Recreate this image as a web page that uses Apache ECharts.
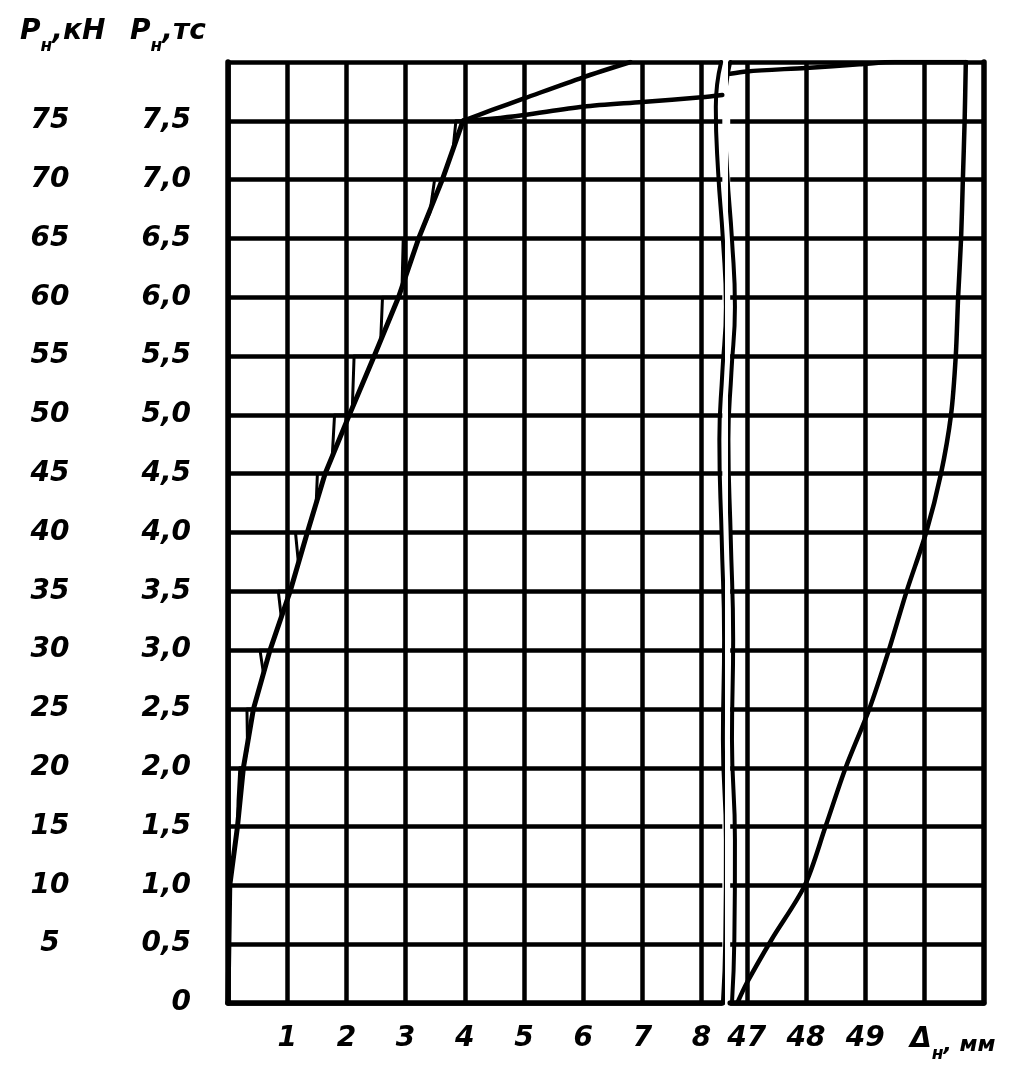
<!DOCTYPE html>
<html><head><meta charset="utf-8">
<script src="https://cdn.jsdelivr.net/npm/echarts@6/dist/echarts.min.js"></script>
<style>html,body{margin:0;background:#fff}#c{width:1030px;height:1072px}</style>
</head><body><div id="c"></div>
<script>
// Tick labels
const tcLabels = ['0','0,5','1,0','1,5','2,0','2,5','3,0','3,5','4,0','4,5','5,0','5,5','6,0','6,5','7,0','7,5',''];
const kNLabels = ['','5','10','15','20','25','30','35','40','45','50','55','60','65','70','75',''];
const leftXTicks = [0,1,2,3,4,5,6,7,8];
const leftXLabels = [1,2,3,4,5,6,7,8];
const rightXTicks = [47,48,49,50];
const rightXLabels = [47,48,49];

// Left panel: loading curve (thick) and reloading loops (thin)
const mainCurve = [[0,0],[0.03,1.0],[0.16,1.5],[0.26,2.0],[0.43,2.5],[0.71,3.0],[1.05,3.5],[1.34,4.0],[1.64,4.5],[2.05,5.0],[2.47,5.5],[2.88,6.0],[3.22,6.5],[3.62,7.0],[3.97,7.5]];
const thinCurve = [[0.03,1.05],[0.01,1.5],[0.16,1.5],
  [0.17,1.72],[0.2,2.0],[0.26,2.0],
  [0.33,2.17],[0.32,2.5],[0.43,2.5],
  [0.6,2.8],[0.54,3.0],[0.71,3.0],
  [0.9,3.28],[0.85,3.5],[1.05,3.5],
  [1.19,3.74],[1.14,4.0],[1.34,4.0],
  [1.49,4.25],[1.51,4.5],[1.64,4.5],
  [1.76,4.64],[1.8,5.0],[2.05,5.0],
  [2.1,5.06],[2.13,5.5],[2.47,5.5],
  [2.58,5.64],[2.61,6.0],[2.88,6.0],
  [2.94,6.09],[2.96,6.5],[3.22,6.5],
  [3.41,6.72],[3.49,7.0],[3.62,7.0],
  [3.8,7.25],[3.85,7.5],[3.97,7.5]];
const upperBranch = [[3.97,7.5],[4.45,7.59],[5.0,7.69],[6.0,7.87],[6.8,8.0]];
const lowerBranch = [[3.97,7.5],[4.5,7.52],[5.0,7.55],[6.0,7.62],[7.0,7.66],[8.0,7.7],[8.35,7.72]];

// Right panel
const rightCurve = [[46.84,0],[47.0,0.17],[47.42,0.54],[47.98,1.0],[48.33,1.5],[48.67,2.0],[49.07,2.5],[49.4,3.0],[49.7,3.5],[50.03,4.0],[50.28,4.5],[50.45,5.0],[50.53,5.5],[50.57,6.0],[50.62,6.5],[50.65,7.0],[50.68,7.5],[50.7,8.0]];
const rightTopLine = [[46.72,7.9],[47.0,7.92],[48.0,7.95],[48.9,7.98],[49.5,8.0],[50.7,8.0]];

// Axis break (wavy edges)
const leftBreak = [[8.33,8.0],[8.24,7.62],[8.28,7.06],[8.36,6.49],[8.41,5.92],[8.35,5.36],[8.30,4.79],[8.34,3.94],[8.38,3.09],[8.36,2.24],[8.41,1.39],[8.40,0.54],[8.36,0]];
const rightBreak = [[46.72,8.0],[46.63,7.62],[46.67,7.06],[46.75,6.49],[46.80,5.92],[46.74,5.36],[46.69,4.79],[46.73,3.94],[46.77,3.09],[46.75,2.24],[46.80,1.39],[46.79,0.54],[46.75,0]];

const FONT = {fontFamily:'DejaVu Sans', fontStyle:'italic', fontWeight:'bold', color:'#000'};
const GRID_W = 4.5, BORDER_W = 5.5;
const gridLine = {show:true, lineStyle:{color:'#000', width:GRID_W}};
const chart = echarts.init(document.getElementById('c'), null, {renderer:'canvas'});

function line(data, xi, w, smooth, extra) {
  return Object.assign({type:'line', xAxisIndex:xi, yAxisIndex:xi, data:data, symbol:'none',
    smooth:smooth||false, lineStyle:{color:'#000', width:w, cap:'round', join:'round'}, silent:true, animation:false}, extra||{});
}

chart.setOption({
  animation:false,
  backgroundColor:'#fff',
  grid:[
    {left:228, top:62, width:8.35*59.2, height:941},
    {left:730.2, top:62, width:(51-46.72)*59.2, height:941}
  ],
  xAxis:[
    {type:'value', gridIndex:0, min:0, max:8.35,
     axisLine:{show:true, lineStyle:{color:'#000', width:BORDER_W}},
     axisTick:{show:false, customValues:leftXTicks}, splitLine:gridLine,
     axisLabel:Object.assign({fontSize:28, margin:22, customValues:leftXLabels, formatter:v=>String(v)}, FONT)},
    {type:'value', gridIndex:1, min:46.72, max:51,
     axisLine:{show:true, lineStyle:{color:'#000', width:BORDER_W}},
     axisTick:{show:false, customValues:rightXTicks}, splitLine:gridLine,
     axisLabel:Object.assign({fontSize:28, margin:22, customValues:rightXLabels, formatter:v=>String(v)}, FONT)}
  ],
  yAxis:[
    {type:'value', gridIndex:0, min:0, max:8, interval:0.5,
     axisLine:{show:true, lineStyle:{color:'#000', width:BORDER_W}},
     axisTick:{show:false}, splitLine:gridLine,
     axisLabel:Object.assign({fontSize:28, margin:37, formatter:v=>tcLabels[Math.round(v/0.5)]}, FONT)},
    {type:'value', gridIndex:1, min:0, max:8, interval:0.5, position:'right',
     axisLine:{show:true, lineStyle:{color:'#000', width:BORDER_W}},
     axisTick:{show:false}, splitLine:gridLine, axisLabel:{show:false}},
    {type:'value', gridIndex:0, min:0, max:8, interval:0.5, position:'left',
     axisLine:{show:false}, axisTick:{show:false}, splitLine:{show:false},
     axisLabel:Object.assign({fontSize:28, margin:178, align:'center', formatter:v=>kNLabels[Math.round(v/0.5)]}, FONT)}
  ],
  series:[
    line(thinCurve, 0, 3),
    line(mainCurve, 0, 5),
    line(upperBranch, 0, 4.5, 0.3),
    line(lowerBranch, 0, 4.5, 0.3),
    line(leftBreak, 0, 4, 0.5, {clip:false}),
    line(rightCurve, 1, 4.5, 0.3),
    line(rightTopLine, 1, 4.5, 0.3),
    line(rightBreak, 1, 4, 0.5, {clip:false})
  ],
  graphic:[
    {type:'text', left:20, top:18, style:{
      text:'{p|P}{s|н}{p|,кН}',
      rich:{p:Object.assign({fontSize:28, lineHeight:32, verticalAlign:'top'}, FONT),
            s:Object.assign({fontSize:17, lineHeight:18, padding:[20,0,0,0], verticalAlign:'top'}, FONT)}}},
    {type:'text', left:130, top:18, style:{
      text:'{p|P}{s|н}{p|,тс}',
      rich:{p:Object.assign({fontSize:28, lineHeight:32, verticalAlign:'top'}, FONT),
            s:Object.assign({fontSize:17, lineHeight:18, padding:[20,0,0,0], verticalAlign:'top'}, FONT)}}},
    {type:'text', left:910, top:1026, style:{
      text:'{p|Δ}{s|н}{t|, мм}',
      rich:{p:Object.assign({fontSize:28, lineHeight:32, verticalAlign:'top'}, FONT),
            s:Object.assign({fontSize:17, lineHeight:18, padding:[20,0,0,0], verticalAlign:'top'}, FONT),
            t:Object.assign({fontSize:22, lineHeight:22, padding:[8,0,0,0], verticalAlign:'top'}, FONT)}}}
  ]
});
</script></body></html>
